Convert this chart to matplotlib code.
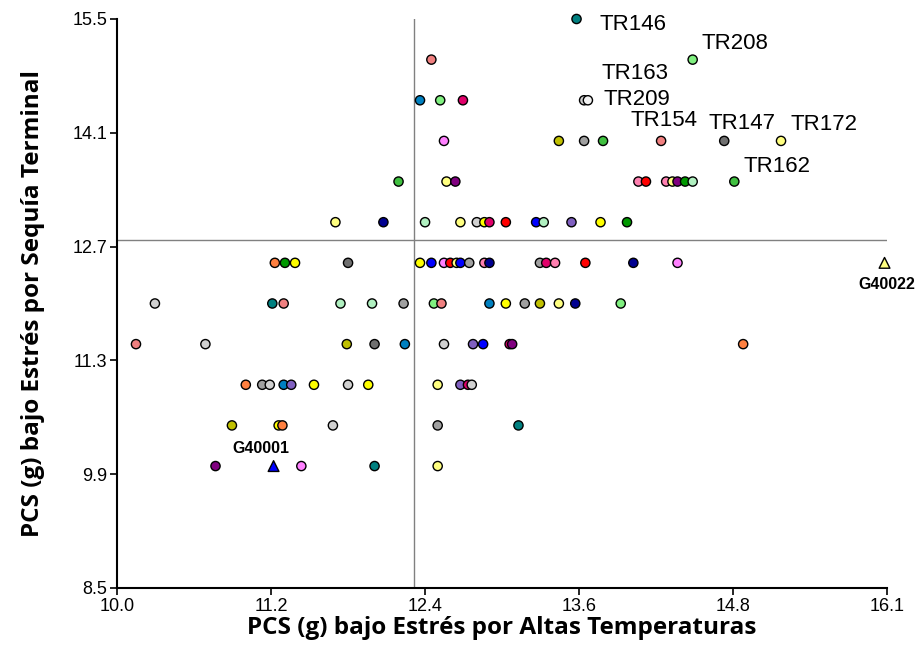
import matplotlib
matplotlib.use('Agg')
import matplotlib.pyplot as plt
import numpy as np


# colores de los genotipos
teal = '#008080'
salmon = '#F08080'
lgreen = '#80F080'
sblue = '#0080C0'
dpink = '#E0006A'
white = '#F2F2F2'
violet = '#FF80FF'
olive = '#C0C000'
grey = '#A0A0A0'
green = '#40C040'
dgrey = '#707070'
lyellow = '#FFFF80'
pink = '#FF80B0'
red = '#FF0000'
purple = '#800080'
blue = '#0000FF'
navy = '#000090'
mpurple = '#8060C0'
yellow = '#FFFF00'
orange = '#FF8040'
lgrey = '#D0D0D0'
dgreen = '#009900'
pgreen = '#B0F0C0'

# PCS (g) bajo altas temperaturas (x), bajo sequia terminal (y), color
pcs_temp = [13.64,
            12.49, 14.56,
            12.40, 12.56, 12.74, 13.70, 13.73,
            12.59, 13.50, 13.70, 13.85, 14.31, 14.81, 15.26,
            12.23, 12.61, 12.68, 14.13, 14.19, 14.35, 14.40, 14.44, 14.50, 14.56, 14.89,
            11.73, 12.11, 12.44, 12.72, 12.85, 12.91, 12.95, 13.08, 13.32, 13.38, 13.60, 13.83, 14.04,
            11.25, 11.33, 11.41, 11.83, 12.40, 12.49, 12.59, 12.64, 12.69, 12.72, 12.79, 12.91, 12.95,
            13.35, 13.40, 13.47, 13.71, 14.09, 14.44,
            10.30, 11.23, 11.32, 11.77, 12.02, 12.27, 12.51, 12.57, 12.95, 13.08, 13.23, 13.35, 13.50,
            13.63, 13.99,
            10.15, 10.70, 11.82, 12.04, 12.28, 12.59, 12.82, 12.90, 13.11, 13.13, 14.96,
            11.02, 11.15, 11.21, 11.32, 11.38, 11.56, 11.83, 11.99, 12.54, 12.72, 12.78, 12.81,
            10.91, 11.28, 11.31, 11.71, 12.54, 13.18,
            10.78, 11.46, 12.04, 12.54]
pcs_sequia = [15.5,
              15.0, 15.0,
              14.5, 14.5, 14.5, 14.5, 14.5,
              14.0, 14.0, 14.0, 14.0, 14.0, 14.0, 14.0,
              13.5, 13.5, 13.5, 13.5, 13.5, 13.5, 13.5, 13.5, 13.5, 13.5, 13.5,
              13.0, 13.0, 13.0, 13.0, 13.0, 13.0, 13.0, 13.0, 13.0, 13.0, 13.0, 13.0, 13.0,
              12.5, 12.5, 12.5, 12.5, 12.5, 12.5, 12.5, 12.5, 12.5, 12.5, 12.5, 12.5, 12.5,
              12.5, 12.5, 12.5, 12.5, 12.5, 12.5,
              12.0, 12.0, 12.0, 12.0, 12.0, 12.0, 12.0, 12.0, 12.0, 12.0, 12.0, 12.0, 12.0,
              12.0, 12.0,
              11.5, 11.5, 11.5, 11.5, 11.5, 11.5, 11.5, 11.5, 11.5, 11.5, 11.5,
              11.0, 11.0, 11.0, 11.0, 11.0, 11.0, 11.0, 11.0, 11.0, 11.0, 11.0, 11.0,
              10.5, 10.5, 10.5, 10.5, 10.5, 10.5,
              10.0, 10.0, 10.0, 10.0]
colores = [teal,
           salmon, lgreen,
           sblue, lgreen, dpink, lgrey, white,
           violet, olive, grey, green, salmon, dgrey, lyellow,
           green, lyellow, purple, pink, red, pink, lyellow, purple, dgreen, pgreen, green,
           lyellow, navy, pgreen, lyellow, lgrey, yellow, dpink, red, blue, pgreen, mpurple, yellow, dgreen,
           orange, dgreen, yellow, dgrey, yellow, blue, violet, red, lyellow, blue, grey, pink, navy,
           grey, dpink, pink, red, navy, violet,
           lgrey, teal, salmon, pgreen, pgreen, grey, lgreen, salmon, sblue, yellow, grey, olive, lyellow,
           navy, lgreen,
           salmon, lgrey, olive, dgrey, sblue, lgrey, mpurple, blue, dpink, purple, orange,
           orange, grey, lgrey, sblue, mpurple, yellow, lgrey, yellow, lyellow, mpurple, dpink, lgrey,
           olive, yellow, orange, lgrey, grey, teal,
           purple, violet, teal, lyellow]

# testigos (triangulos)
testigos = ['G40001', 'G40022']
testigo_temp = [11.24, 16.08]
testigo_sequia = [10.0, 12.5]
testigo_color = [blue, lyellow]

# genotipos destacados: nombre -> indice en las listas
destacados = ['TR146', 'TR208', 'TR163', 'TR209', 'TR154', 'TR147', 'TR172', 'TR162']
idx_destacados = [0, 2, 6, 7, 12, 13, 14, 25]
off_destacados = [(23, -6), (9, 16), (17, 27), (16, 1), (-31, 20), (-16, 17), (9, 16), (9, 15)]

# medias (lineas de referencia)
media_temp = 12.35
media_sequia = 12.78

x_ticks = np.linspace(10.0, 16.1, 6)
x_labels = ['10.0', '11.2', '12.4', '13.6', '14.8', '16.1']
y_ticks = np.linspace(8.5, 15.5, 6)
y_labels = ['8.5', '9.9', '11.3', '12.7', '14.1', '15.5']


def main():
    fig = plt.figure(figsize=(9.18, 6.5), dpi=100)
    ax = fig.add_axes([0.1275, 0.0954, 0.8388, 0.8754])

    ax.axvline(media_temp, color='#808080', lw=1.0, zorder=1)
    ax.axhline(media_sequia, color='#808080', lw=1.0, zorder=1)

    ax.scatter(pcs_temp, pcs_sequia, s=44, c=colores, edgecolors='black',
               linewidths=1.0, zorder=3, clip_on=False)
    ax.scatter(testigo_temp, testigo_sequia, s=60, marker='^', c=testigo_color,
               edgecolors='black', linewidths=1.0, zorder=3, clip_on=False)

    for name, i, off in zip(destacados, idx_destacados, off_destacados):
        ax.annotate(name, (pcs_temp[i], pcs_sequia[i]), xytext=off,
                    textcoords='offset pixels', ha='left', va='center',
                    fontsize=16, family='Liberation Sans')

    ax.annotate(testigos[0], (testigo_temp[0], testigo_sequia[0]), xytext=(-13, 18),
                textcoords='offset pixels', ha='center', va='center',
                fontsize=11.5, fontweight='bold', family='Liberation Sans')
    ax.annotate(testigos[1], (testigo_temp[1], testigo_sequia[1]), xytext=(2, -22),
                textcoords='offset pixels', ha='center', va='center',
                fontsize=11.5, fontweight='bold', family='Liberation Sans',
                annotation_clip=False)

    ax.set_xlim(10.0, 16.1)
    ax.set_ylim(8.5, 15.5)
    ax.set_xticks(x_ticks)
    ax.set_xticklabels(x_labels, fontsize=13, family='Liberation Sans')
    ax.set_yticks(y_ticks)
    ax.set_yticklabels(y_labels, fontsize=13, family='Liberation Sans')
    ax.tick_params(direction='out', length=5, width=1.2, pad=2)

    for s in ['top', 'right']:
        ax.spines[s].set_visible(False)
    for s in ['left', 'bottom']:
        ax.spines[s].set_linewidth(1.5)

    ax.set_xlabel('PCS (g) bajo Estrés por Altas Temperaturas', fontsize=17.5,
                  fontweight='bold', family='Open Sans', labelpad=1)
    ax.set_ylabel('PCS (g) bajo Estrés por Sequía Terminal', fontsize=17.5,
                  fontweight='bold', family='Open Sans', labelpad=20)

    fig.savefig('out.png', dpi=100)


if __name__ == "__main__":

    main()
